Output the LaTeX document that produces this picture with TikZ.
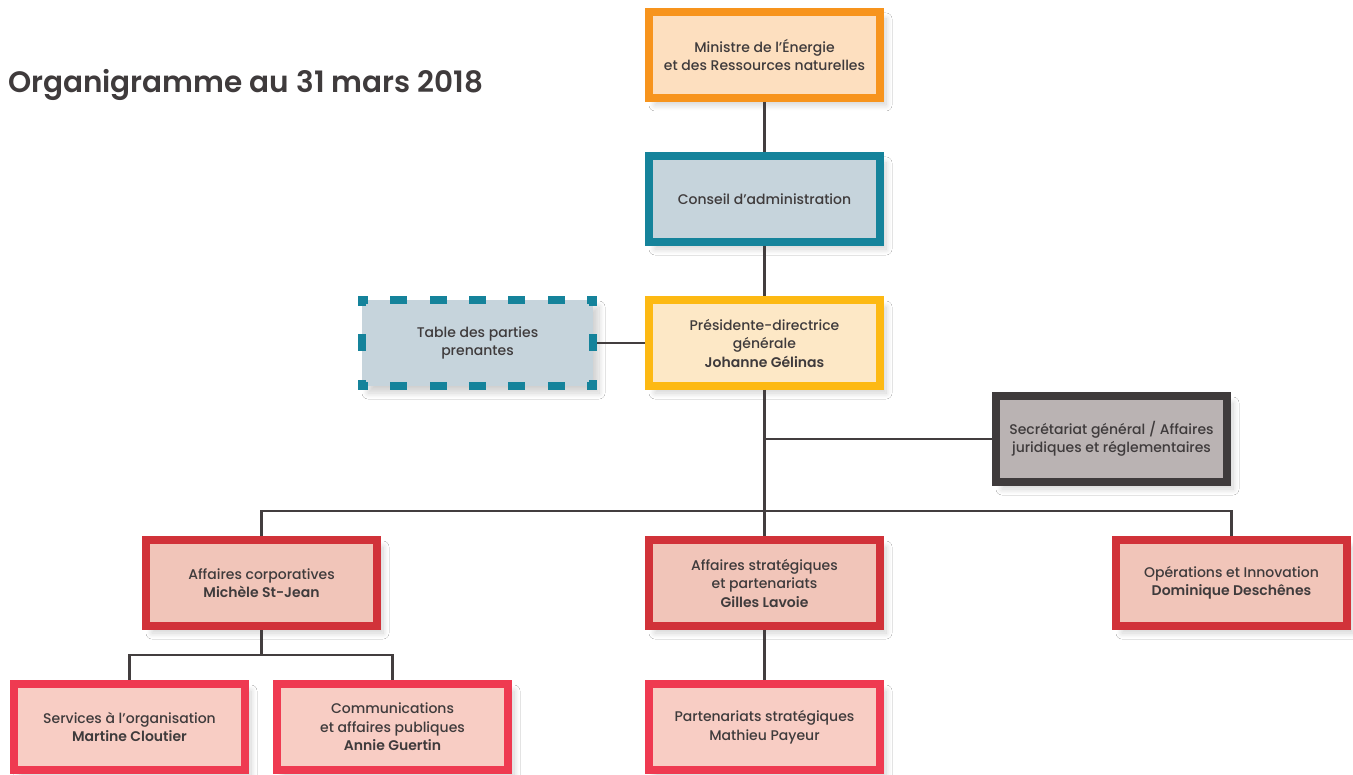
\documentclass[tikz,border=0pt]{standalone}
\usepackage{fontspec}
\setmainfont{Poppins}[UprightFont={* Medium},BoldFont={* SemiBold}]
\usepackage{tikz}
\usetikzlibrary{positioning,calc,shadows.blur}
\usepackage{xcolor}
\definecolor{txtgray}{HTML}{3F3B3C}
\definecolor{linegray}{HTML}{433E3F}
\definecolor{orangeb}{HTML}{F7941D}\definecolor{orangef}{HTML}{FDDFBF}
\definecolor{tealb}{HTML}{15839B}\definecolor{tealf}{HTML}{C6D4DC}
\definecolor{yellowb}{HTML}{FDB913}\definecolor{yellowf}{HTML}{FDE8C6}
\definecolor{darkb}{HTML}{3F3B3C}\definecolor{darkf}{HTML}{BAB3B3}
\definecolor{redb}{HTML}{D13239}\definecolor{redf}{HTML}{F1C5B9}
\definecolor{pinkb}{HTML}{EF3A51}\definecolor{pinkf}{HTML}{F8CDC4}

\begin{document}
\begin{tikzpicture}[x=1pt,y=-1pt,
  box/.style={rectangle,line width=8pt,outer sep=4pt,minimum width=231pt,minimum height=86pt,inner sep=0pt,
    align=center,text=txtgray,font=\fontsize{14}{18.5}\selectfont,
    blur shadow={shadow xshift=6pt,shadow yshift=-7pt,shadow blur radius=6pt,shadow blur steps=10,shadow opacity=18}},
  minbox/.style={box,draw=orangeb,fill=orangef},
  cabox/.style={box,draw=tealb,fill=tealf},
  pdgbox/.style={box,draw=yellowb,fill=yellowf},
  tabbox/.style={box,draw=none,fill=tealf},
  tabh/.style={draw=tealb,line width=8pt,line cap=rect,
    dash pattern=on 2pt off 30.3pt on 9pt off 30.3pt on 9pt off 30.3pt on 9pt off 30.3pt on 9pt off 30.3pt on 9pt off 30.3pt on 2pt off 40pt},
  tabv/.style={draw=tealb,line width=8pt,line cap=rect,
    dash pattern=on 2pt off 36.5pt on 9pt off 36.5pt on 2pt off 40pt},
  secbox/.style={box,draw=darkb,fill=darkf},
  vpbox/.style={box,draw=redb,fill=redf},
  dirbox/.style={box,draw=pinkb,fill=pinkf},
  link/.style={draw=linegray,line width=2.5pt}]
\useasboundingbox (0,0) rectangle (1353,775);
\fill[white] (0,0) rectangle (1353,775);
% titre
\node[anchor=base west,inner sep=0pt,text=txtgray,font=\fontsize{29.5}{34}\selectfont\bfseries] (titre) at (8,93) {Organigramme au 31 mars 2018};
% boites
\node[minbox] (min) at (764.5,55) {Ministre de l'Énergie\\et des Ressources naturelles};
\node[cabox] (ca) at (764.5,199) {Conseil d'administration};
\node[pdgbox] (pdg) at (764.5,343) {Présidente-directrice\\générale\\\textbf{Johanne Gélinas}};
\node[tabbox] (tab) at (477.5,343) {Table des parties\\prenantes};
\node[secbox] (sec) at (1111.5,439) {Secrétariat général / Affaires\\juridiques et réglementaires};
\node[vpbox] (ac) at (261.5,583) {Affaires corporatives\\\textbf{Michèle St-Jean}};
\node[vpbox] (asp) at (764.5,583) {Affaires stratégiques\\et partenariats\\\textbf{Gilles Lavoie}};
\node[vpbox] (ope) at (1231.5,583) {Opérations et Innovation\\\textbf{Dominique Deschênes}};
\node[dirbox] (srv) at (129.5,727) {Services à l'organisation\\\textbf{Martine Cloutier}};
\node[dirbox] (com) at (392.5,727) {Communications\\et affaires publiques\\\textbf{Annie Guertin}};
\node[dirbox] (par) at (764.5,727) {Partenariats stratégiques\\Mathieu Payeur};
% bord pointille de la table
\coordinate (tnw) at ([shift={(4,4)}]tab.north west);
\coordinate (tne) at ([shift={(-4,4)}]tab.north east);
\coordinate (tsw) at ([shift={(4,-4)}]tab.south west);
\coordinate (tse) at ([shift={(-4,-4)}]tab.south east);
\draw[tabh] (tnw) -- (tne);
\draw[tabh] (tsw) -- (tse);
\draw[tabv] (tnw) -- (tsw);
\draw[tabv] (tne) -- (tse);
% liens
\coordinate (bus) at (764.5,511);
\coordinate (sub) at (261.5,655);
\draw[link] (min) -- (ca);
\draw[link] (ca) -- (pdg);
\draw[link] (tab) -- (pdg);
\draw[link] (pdg) -- (asp);
\draw[link] (pdg.south |- sec.west) -- (sec.west);
\draw[link] (ac.north) |- (bus) -| (ope.north);
\draw[link] (ac) -- (sub);
\draw[link] (srv.north) |- (sub) -| (com.north);
\draw[link] (asp) -- (par);
\end{tikzpicture}
\end{document}
